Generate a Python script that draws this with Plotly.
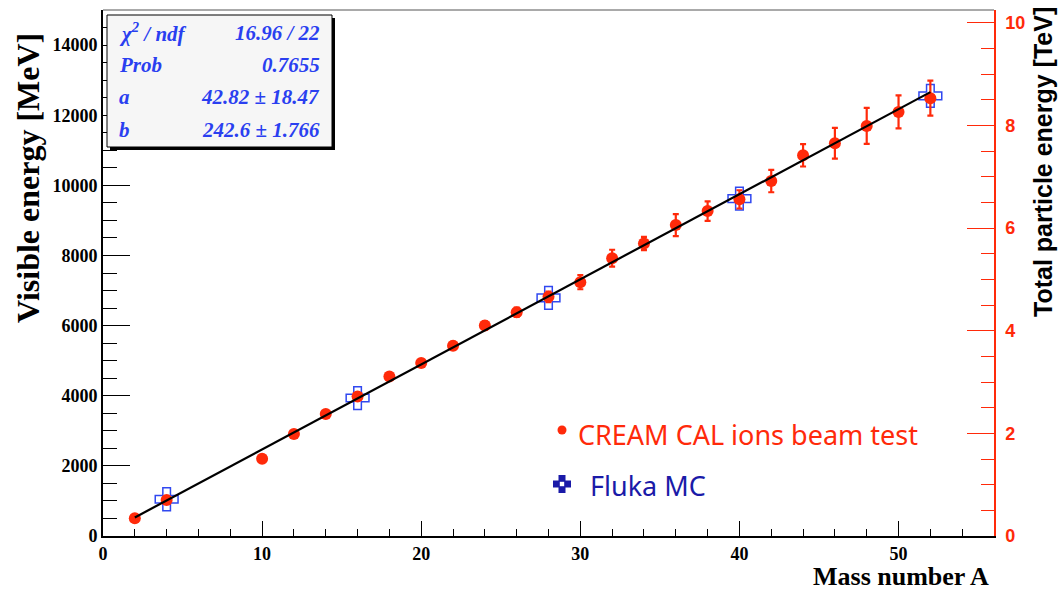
import plotly.graph_objects as go

# ---- data ----
A_beam = [2, 4, 10, 12, 14, 16, 18, 20, 22, 24, 26, 28, 30, 32, 34, 36, 38, 40, 42, 44, 46, 48, 50, 52]
E_beam = [506, 1029, 2200, 2906, 3477, 3980, 4551, 4934, 5428, 6000, 6380, 6820, 7237, 7923,
          8343, 8866, 9265, 9600, 10123, 10857, 11200, 11694, 12094, 12486]
E_beam_err = [30, 40, 60, 70, 80, 90, 90, 100, 110, 120, 130, 150, 200, 240, 190, 314, 276,
              260, 320, 320, 440, 514, 471, 500]

A_mc = [4, 16, 28, 40, 52]
E_mc = [1048, 3934, 6791, 9620, 12551]

fit_a = 42.82
fit_b = 242.6
fit_range = [2, 52]

stats_labels = ["χ<sup>2</sup> / ndf", "Prob", "a", "b"]
stats_values = ["16.96 / 22", "0.7655", "42.82 ± 18.47", "242.6 ± 1.766"]

x_ticks = [0, 10, 20, 30, 40, 50]
y_ticks = [0, 2000, 4000, 6000, 8000, 10000, 12000, 14000]
y2_ticks = [0, 2, 4, 6, 8, 10]

# ---- layout helpers (pixel -> paper) ----
WIDTH, HEIGHT = 1059, 591
L, R, T, B = 103, 994, 10, 536


def px(x):
    return (x - L) / (R - L)


def py(y):
    return (B - y) / (B - T)


RED = "#ff2a0a"
BLUE = "#3048f0"
DARKBLUE = "#1a1aa8"
STATBLUE = "#2a3ff0"

fig = go.Figure()

fig.add_trace(go.Scatter(
    x=A_mc, y=E_mc, mode="markers",
    marker=dict(symbol="cross-open", size=19, color=BLUE, line=dict(color=BLUE, width=1.5)),
    showlegend=False, hoverinfo="skip"))

fig.add_trace(go.Scatter(
    x=A_beam, y=E_beam, mode="markers",
    error_y=dict(type="data", array=E_beam_err, color=RED, thickness=2.2, width=3),
    marker=dict(color=RED, size=12),
    showlegend=False))

fit_y = [fit_a + fit_b * v for v in fit_range]
fig.add_trace(go.Scatter(
    x=fit_range, y=fit_y, mode="lines",
    line=dict(color="black", width=2.2), showlegend=False))

# dummy trace to activate right axis
fig.add_trace(go.Scatter(x=[None], y=[None], yaxis="y2", showlegend=False, hoverinfo="skip"))

serif_bold = dict(family="Liberation Serif, Times New Roman, serif", weight="bold", color="black")
sans_bold_red = dict(family="Liberation Sans, Arial, sans-serif", weight="bold", color=RED, size=18)

fig.update_layout(
    width=WIDTH, height=HEIGHT, autosize=False,
    margin=dict(l=L, r=WIDTH - R, t=T, b=HEIGHT - B, pad=0),
    plot_bgcolor="white", paper_bgcolor="white",
    showlegend=False,
    xaxis=dict(range=[0, 56], tickvals=x_ticks, tickformat="d",
               ticks="inside", ticklen=15, tickwidth=1, tickcolor="black",
               minor=dict(dtick=2, tick0=0, ticks="inside", ticklen=7.5, tickwidth=1, tickcolor="black"),
               showline=True, linecolor="black", linewidth=2,
               showgrid=False, zeroline=False,
               tickfont=dict(size=18, **serif_bold)),
    yaxis=dict(range=[0, 15000], tickvals=y_ticks, tickformat="d",
               ticks="inside", ticklen=27, tickwidth=1, tickcolor="black",
               minor=dict(dtick=500, tick0=0, ticks="inside", ticklen=13.5, tickwidth=1, tickcolor="black"),
               showline=True, linecolor="black", linewidth=2,
               showgrid=False, zeroline=False,
               tickfont=dict(size=18, **serif_bold)),
    yaxis2=dict(overlaying="y", side="right", range=[0, 10.25], tickvals=y2_ticks, tickformat="d",
                ticks="inside", ticklen=27, tickwidth=1.2, tickcolor=RED,
                minor=dict(dtick=0.5, tick0=0, ticks="inside", ticklen=13.5, tickwidth=1.2, tickcolor=RED),
                showline=True, linecolor=RED, linewidth=1.5,
                showgrid=False, zeroline=False, ticklabelstandoff=6,
                tickfont=sans_bold_red),
)

shapes = []
# top frame line
shapes.append(dict(type="line", xref="paper", yref="paper", x0=0, x1=1, y0=1, y1=1,
                   line=dict(color="#555555", width=1)))
# stats box shadow + box
shapes.append(dict(type="rect", xref="paper", yref="paper",
                   x0=px(110), x1=px(335), y0=py(150), y1=py(18),
                   fillcolor="black", line=dict(width=0)))
shapes.append(dict(type="rect", xref="paper", yref="paper",
                   x0=px(107), x1=px(332), y0=py(147), y1=py(15),
                   fillcolor="#f6f6f6", line=dict(color="black", width=1)))
# legend symbols
shapes.append(dict(type="circle", xref="paper", yref="paper",
                   x0=px(557.5), x1=px(566.5), y0=py(434.5), y1=py(425.5),
                   fillcolor=RED, line=dict(width=0)))
cx, cy, a, h = 562, 484, 3.5, 9
pts = [(-a, -h), (a, -h), (a, -a), (h, -a), (h, a), (a, a), (a, h), (-a, h), (-a, a), (-h, a), (-h, -a), (-a, -a)]
path = "M " + " L ".join(f"{px(cx + dx):.5f},{py(cy + dy):.5f}" for dx, dy in pts) + " Z"
shapes.append(dict(type="path", xref="paper", yref="paper", path=path,
                   fillcolor=DARKBLUE, line=dict(width=0)))
shapes.append(dict(type="rect", xref="paper", yref="paper",
                   x0=px(cx - 2.2), x1=px(cx + 2.2), y0=py(cy + 2.2), y1=py(cy - 2.2),
                   fillcolor="white", line=dict(width=0)))
fig.update_layout(shapes=shapes)

ann = []
stat_font = dict(family="Liberation Serif, Times New Roman, serif", size=21, color=STATBLUE,
                 weight="bold", style="italic")
row_y = [33, 65, 97, 130]
for lab, val, yy in zip(stats_labels, stats_values, row_y):
    ann.append(dict(xref="paper", yref="paper", x=px(117), y=py(yy), text=lab, showarrow=False,
                    xanchor="left", yanchor="middle", font=stat_font))
    ann.append(dict(xref="paper", yref="paper", x=px(322), y=py(yy), text=val, showarrow=False,
                    xanchor="right", yanchor="middle", font=stat_font))

# axis titles
ann.append(dict(xref="paper", yref="paper", x=px(28), y=py(178), text="Visible energy [MeV]",
                textangle=-90, showarrow=False, xanchor="center", yanchor="middle",
                font=dict(size=32, **serif_bold)))
ann.append(dict(xref="paper", yref="paper", x=px(1043), y=py(162), text="Total particle energy [TeV]",
                textangle=-90, showarrow=False, xanchor="center", yanchor="middle",
                font=dict(family="Liberation Sans, Arial, sans-serif", weight="bold", size=25, color="black")))
ann.append(dict(xref="paper", yref="paper", x=px(991), y=py(576), text="Mass number A",
                showarrow=False, xanchor="right", yanchor="middle",
                font=dict(size=26, **serif_bold)))

# legend texts
ann.append(dict(xref="paper", yref="paper", x=px(576), y=py(434), text="CREAM CAL ions beam test",
                showarrow=False, xanchor="left", yanchor="middle",
                font=dict(family="Noto Sans, sans-serif", size=27, color=RED)))
ann.append(dict(xref="paper", yref="paper", x=px(588), y=py(485), text="Fluka MC",
                showarrow=False, xanchor="left", yanchor="middle",
                font=dict(family="Noto Sans, sans-serif", size=27, color=DARKBLUE)))
fig.update_layout(annotations=ann)

fig.write_html("out.html")
